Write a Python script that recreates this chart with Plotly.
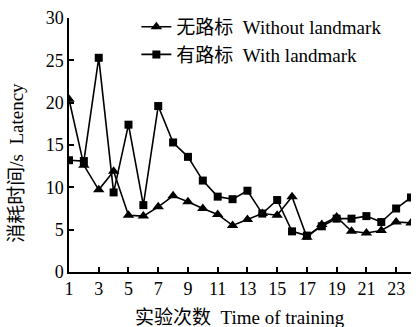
import plotly.graph_objects as go

trials = list(range(1, 25))
without_landmark = [20.4, 12.6, 9.7, 11.9, 6.7, 6.6, 7.7, 9.0, 8.3, 7.5, 6.8, 5.5,
                    6.2, 6.9, 6.7, 8.9, 4.1, 5.6, 6.5, 4.8, 4.6, 4.9, 5.9, 5.8]
with_landmark = [13.2, 13.1, 25.3, 9.4, 17.4, 7.9, 19.6, 15.3, 13.6, 10.8, 8.9, 8.6,
                 9.6, 6.9, 8.5, 4.8, 4.3, 5.4, 6.3, 6.3, 6.6, 5.9, 7.5, 8.8]
x_ticks = list(range(1, 24, 2))
y_ticks = [0, 5, 10, 15, 20, 25, 30]

SP = "\u00a0\u00a0"
name_without = "无路标" + SP + "Without landmark"
name_with = "有路标" + SP + "With landmark"
x_title = "实验次数" + SP + "Time of training"
y_title = "消耗时间/s" + SP + "Latency"

FONT = '"Liberation Serif", "Times New Roman", "Noto Sans CJK SC", serif'

fig = go.Figure()
fig.add_trace(go.Scatter(
    x=trials, y=without_landmark, mode="lines+markers", name=name_without,
    line=dict(color="black", width=1.6),
    marker=dict(symbol="triangle-up", size=10, color="black"),
))
fig.add_trace(go.Scatter(
    x=trials, y=with_landmark, mode="lines+markers", name=name_with,
    line=dict(color="black", width=1.6),
    marker=dict(symbol="square", size=8, color="black"),
))

fig.update_layout(
    width=416, height=327, autosize=False,
    margin=dict(l=69, r=5, t=18, b=55),
    paper_bgcolor="white", plot_bgcolor="white",
    font=dict(family=FONT, size=18, color="black"),
    showlegend=True,
    legend=dict(x=0.197, y=1.04, xanchor="left", yanchor="top",
                bgcolor="rgba(0,0,0,0)", font=dict(size=19),
                tracegroupgap=0, itemwidth=30),
    xaxis=dict(range=[1, 24], tickmode="array", tickvals=x_ticks,
               ticktext=[str(v) for v in x_ticks],
               showgrid=False, zeroline=False, showline=True,
               linecolor="black", linewidth=1.5,
               ticks="inside", ticklen=5, tickwidth=1.5, tickcolor="black",
               tickfont=dict(size=18)),
    yaxis=dict(range=[0, 30], tickmode="array", tickvals=y_ticks,
               ticktext=[str(v) for v in y_ticks],
               showgrid=False, zeroline=False, showline=True,
               linecolor="black", linewidth=1.5,
               ticks="inside", ticklen=5, tickwidth=1.5, tickcolor="black",
               tickfont=dict(size=18)),
)

fig.add_annotation(text=x_title, xref="paper", yref="paper", x=0.5, y=0,
                   yshift=-45, xanchor="center", yanchor="middle",
                   showarrow=False, font=dict(size=19))
fig.add_annotation(text=y_title, xref="paper", yref="paper", x=0, y=0.43,
                   xshift=-52, xanchor="center", yanchor="middle", textangle=-90,
                   showarrow=False, font=dict(size=19))

fig.write_html("out.html", config={"displayModeBar": False, "responsive": False})

with open("out.html", "r", encoding="utf-8") as f:
    html = f.read()
html = html.replace("<head>", "<head><style>html,body{margin:0;padding:0;}</style>", 1)
with open("out.html", "w", encoding="utf-8") as f:
    f.write(html)
